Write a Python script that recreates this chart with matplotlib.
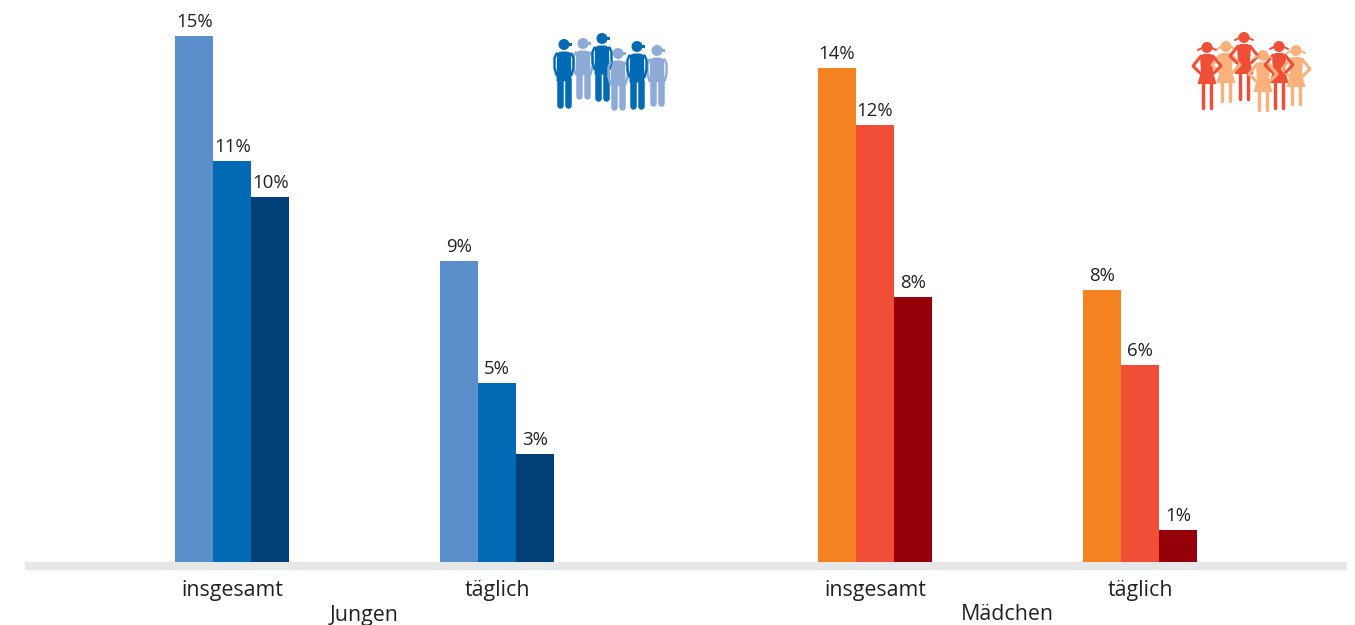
import matplotlib
matplotlib.use('Agg')
import matplotlib.pyplot as plt
from matplotlib.patches import Rectangle, Circle, Polygon

categories = ['insgesamt', 'täglich', 'insgesamt', 'täglich']
group_names = ['Jungen', 'Mädchen']
# first, second, third bar in each cluster
v1 = [14.7, 8.42, 13.8, 7.6]
v2 = [11.2, 5.0, 12.2, 5.5]
v3 = [10.2, 3.02, 7.4, 0.9]
labels1 = ['15%', '9%', '14%', '8%']
labels2 = ['11%', '5%', '12%', '6%']
labels3 = ['10%', '3%', '8%', '1%']
colors1 = ['#5b8fcb', '#5b8fcb', '#f58220', '#f58220']
colors2 = ['#006ab5', '#006ab5', '#f04e37', '#f04e37']
colors3 = ['#004077', '#004077', '#960008', '#960008']

W, H = 1355, 625
plt.rcParams['font.family'] = ['Open Sans', 'DejaVu Sans']
fig = plt.figure(figsize=(W / 100, H / 100), dpi=100)

# overlay in pixel coords for the baseline strip and the pictograms
px = fig.add_axes([0, 0, 1, 1])
px.set_xlim(0, W)
px.set_ylim(H, 0)
px.axis('off')

base = 562
scale = (562 - 36) / 14.7
bar_w = 38
starts = [175.3, 440, 818, 1083]

# value axis: 0 sits on the strip
ax = fig.add_axes([0, 0, 1, 1])
ax.set_xlim(0, W)
ax.set_ylim(-(H - base) / scale, base / scale)
ax.axis('off')
ax.patch.set_alpha(0)

px.add_patch(Rectangle((25, base), 1322, 8, color='#e6e7e8', lw=0))

for i in range(4):
    for j, (vals, labs, cols) in enumerate([(v1, labels1, colors1), (v2, labels2, colors2), (v3, labels3, colors3)]):
        x = starts[i] + j * bar_w
        ax.bar(x, vals[i], bar_w, align='edge', color=cols[i], lw=0)
        ax.annotate(labs[i], (x + bar_w / 2, vals[i]), xytext=(0, 3.7), textcoords='offset points',
                    ha='center', va='bottom', fontsize=13.4, color='#222222')
    px.text(starts[i] + bar_w * 1.5, 590.5, categories[i], ha='center', va='center', fontsize=15.4, color='#222222')

px.text(364, 615, group_names[0], ha='center', va='center', fontsize=15.4, color='#222222')
px.text(1007, 615, group_names[1], ha='center', va='center', fontsize=15.4, color='#222222')


def line(xs, ys, col, w):
    # w in pixels
    px.plot(xs, ys, color=col, lw=w * 0.72, solid_capstyle='round', solid_joinstyle='round')


def boy(x, top, feet, col):
    px.add_patch(Circle((x, top + 5.5), 5.5, color=col, lw=0))
    px.add_patch(Rectangle((x, top + 3.5), 7.5, 3, color=col, lw=0))
    leg = top + (feet - top) * 0.62
    px.add_patch(Polygon([(x - 7, top + 14), (x - 3, top + 12.5), (x + 3, top + 12.5), (x + 7, top + 14),
                          (x + 7.5, leg), (x - 7.5, leg)], color=col, lw=0))
    line([x - 4.2, x - 4.2], [leg - 1, feet - 2], col, 6.5)
    line([x + 4.2, x + 4.2], [leg - 1, feet - 2], col, 6.5)
    line([x - 7.5, x - 9.5, x - 9.5, x - 7.5], [top + 14.5, top + 19, top + 29, top + 36], col, 2.4)
    line([x + 7.5, x + 9.5, x + 9.5, x + 7.5], [top + 14.5, top + 19, top + 29, top + 36], col, 2.4)


def girl(x, top, feet, col):
    px.add_patch(Circle((x, top + 5.5), 5.5, color=col, lw=0))
    line([x - 5, x - 9], [top + 6, top + 8], col, 2)
    line([x + 5, x + 9], [top + 6, top + 8], col, 2)
    waist = top + 30
    hem = top + 42
    px.add_patch(Polygon([(x - 4, top + 12), (x + 4, top + 12), (x + 7, top + 16), (x + 6, waist), (x + 9.5, hem),
                          (x - 9.5, hem), (x - 6, waist), (x - 7, top + 16)], color=col, lw=0))
    line([x - 3.8, x - 3.8], [hem, feet - 1.5], col, 3.4)
    line([x + 3.8, x + 3.8], [hem, feet - 1.5], col, 3.4)
    line([x - 6, x - 14, x - 7], [top + 14, top + 24, top + 31], col, 3)
    line([x + 6, x + 14, x + 7], [top + 14, top + 24, top + 31], col, 3)


light_b = '#8eabd8'
dark_b = '#006ab5'
light_g = '#fbb17b'
dark_g = '#f04e37'
boy(583, 38, 98, light_b)
boy(564, 39, 107, dark_b)
boy(602, 33, 100, dark_b)
boy(618, 48, 109, light_b)
boy(657, 45, 105, light_b)
boy(637, 41, 108, dark_b)

girl(1226, 41, 102, light_g)
girl(1207, 42, 109, dark_g)
girl(1244, 32, 100, dark_g)
girl(1296, 45, 105, light_g)
girl(1279, 41, 109, dark_g)
girl(1263, 50, 111, light_g)

fig.savefig('out.png', dpi=100)
